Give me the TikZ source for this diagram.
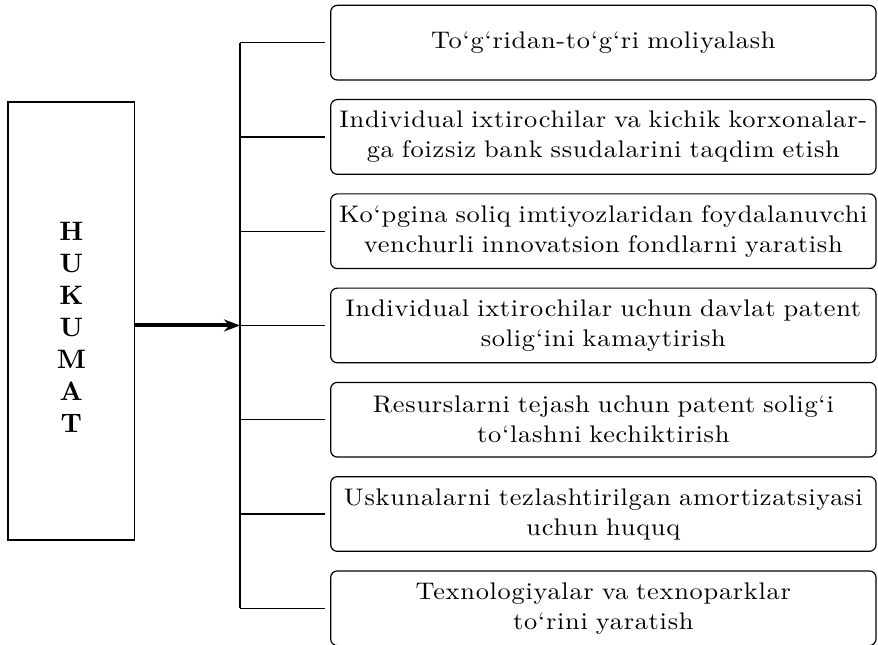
\documentclass[tikz,border=0pt]{standalone}
\usepackage{fontspec}
\usepackage{tikz}
\usetikzlibrary{positioning,arrows.meta}

\newfontfamily\boxfont{lmroman10-regular.otf}[FakeStretch=1.1,LetterSpace=3]
\newfontfamily\govfont{lmroman10-bold.otf}

\tikzset{
    item/.style={draw, rounded corners=5pt, line width=0.9pt, text width=405pt,
        minimum height=56pt, inner sep=2pt, align=center,
        font=\boxfont\fontsize{18}{22.5}\selectfont},
    branch/.style={line width=0.9pt, shorten >=3.5pt}
}

\begin{document}
\begin{tikzpicture}[node distance=13.8pt]
    \useasboundingbox (0,0) rectangle (658.5pt,-483.75pt);

    % government block
    \node[draw, line width=0.9pt, minimum width=95pt, minimum height=328.5pt]
        (gov) at (53.5pt,-240.75pt) {};
    \node[align=center, font=\govfont\fontsize{20}{24}\selectfont]
        (govtext) at ([yshift=-5pt]gov.center) {H\\U\\K\\U\\M\\A\\T};

    % measures
    \node[item] (b1) at (452.5pt,-32pt) {To‘g‘ridan-to‘g‘ri moliyalash};
    \node[item, below=of b1] (b2) {Individual ixtirochilar va kichik korxonalar-\\ga foizsiz bank ssudalarini taqdim etish};
    \node[item, below=of b2] (b3) {Ko‘pgina soliq imtiyozlaridan foydalanuvchi\\venchurli innovatsion fondlarni yaratish};
    \node[item, below=of b3] (b4) {Individual ixtirochilar uchun davlat patent\\solig‘ini kamaytirish};
    \node[item, below=of b4] (b5) {Resurslarni tejash uchun patent solig‘i\\to‘lashni kechiktirish};
    \node[item, below=of b5] (b6) {Uskunalarni tezlashtirilgan amortizatsiyasi\\uchun huquq};
    \node[item, below=of b6] (b7) {Texnologiyalar va texnoparklar\\to‘rini yaratish};

    % bus line
    \coordinate (bus) at (180pt,0);
    \draw[line width=0.9pt] (bus |- b1.west) -- (bus |- b7.west);
    \foreach \i in {1,...,7}
        \draw[branch] (bus |- b\i.west) -- (b\i.west);

    \draw[line width=3pt, -{Stealth[length=12pt,width=9pt]}] (gov.east |- b4.west) -- (bus |- b4.west);
\end{tikzpicture}
\end{document}
